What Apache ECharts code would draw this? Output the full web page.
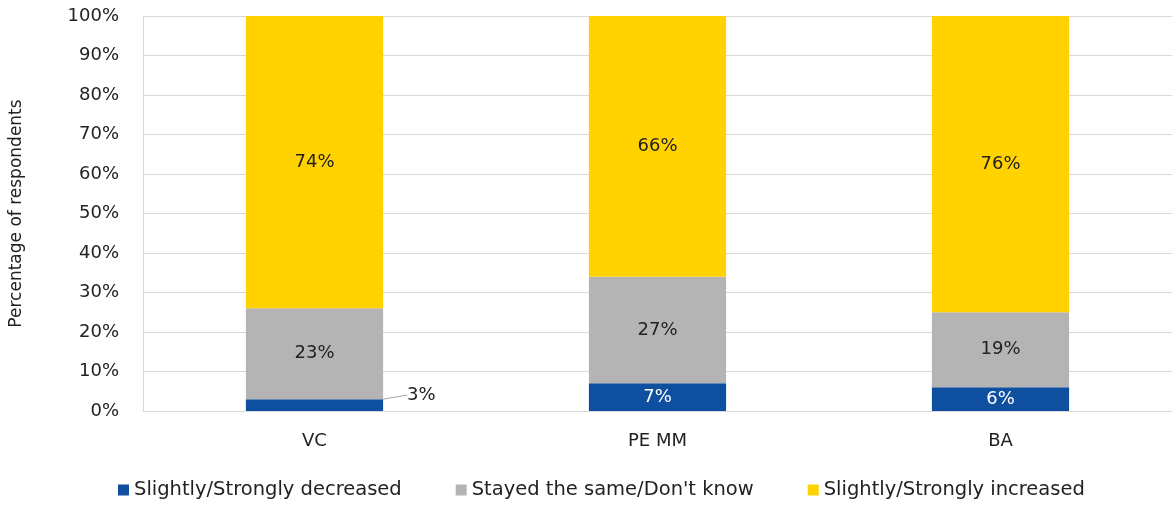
<!DOCTYPE html>
<html><head><meta charset="utf-8">
<script src="https://cdn.jsdelivr.net/npm/echarts@6/dist/echarts.min.js"></script>
<style>html,body{margin:0;padding:0;background:#fff}#c{width:1176px;height:508px}</style>
</head><body><div id="c"></div>
<script>
const categories = ['VC', 'PE MM', 'BA'];
const decreased = [3, 7, 6];
const same = [23, 27, 19];
const increased = [74, 66, 76];
const seriesNames = ['Slightly/Strongly decreased', 'Stayed the same/Don\'t know', 'Slightly/Strongly increased'];
const yTicks = [0, 10, 20, 30, 40, 50, 60, 70, 80, 90, 100];

const FONT = '"DejaVu Sans", sans-serif';
const chart = echarts.init(document.getElementById('c'));
const lbl = (color) => ({ show: true, position: 'inside', color: color, fontSize: 18, fontFamily: FONT, formatter: p => p.value + '%' });

chart.setOption({
  animation: false,
  textStyle: { fontFamily: FONT },
  grid: { left: 143, right: 4, top: 16, bottom: 97, containLabel: false, outerBoundsMode: 'none' },
  legend: {
    bottom: 3, left: 113, itemWidth: 11, itemHeight: 11, itemGap: 54, itemTextGap: 6,
    icon: 'rect',
    textStyle: { fontSize: 19.5, color: '#222', fontFamily: FONT },
    data: seriesNames
  },
  xAxis: {
    type: 'category', data: categories,
    axisLine: { lineStyle: { color: '#d9d9d9', width: 1 } },
    axisTick: { show: false },
    axisLabel: { fontSize: 18, color: '#222', margin: 21 }
  },
  yAxis: {
    type: 'value', min: 0, max: 100, interval: 10,
    name: 'Percentage of respondents', nameLocation: 'middle', nameGap: 118, nameRotate: 90,
    nameTextStyle: { fontSize: 17, color: '#222' },
    axisLine: { show: true, lineStyle: { color: '#d9d9d9' } },
    axisTick: { show: false },
    splitLine: { lineStyle: { color: '#d9d9d9' } },
    axisLabel: { fontSize: 18, color: '#222', margin: 24, formatter: v => yTicks.includes(v) ? v + '%' : '' }
  },
  series: [
    {
      name: seriesNames[0], type: 'bar', stack: 's', barWidth: '40%',
      itemStyle: { color: '#0F4FA0' },
      data: decreased.map((v, i) => i === 0 ? {
        value: v,
        label: { show: true, position: 'right', distance: 0, color: '#222', fontSize: 18, fontFamily: FONT, formatter: p => p.value + '%' }
      } : v),
      label: lbl('#ffffff'),
      labelLine: { show: true, lineStyle: { color: '#a6a6a6', width: 1 } },
      labelLayout: p => p.dataIndex === 0 ? { dx: 24, dy: -10 } : {}
    },
    {
      name: seriesNames[1], type: 'bar', stack: 's',
      itemStyle: { color: '#B4B4B4' },
      data: same, label: lbl('#222')
    },
    {
      name: seriesNames[2], type: 'bar', stack: 's',
      itemStyle: { color: '#FFD200' },
      data: increased, label: lbl('#222')
    }
  ]
});
</script></body></html>
